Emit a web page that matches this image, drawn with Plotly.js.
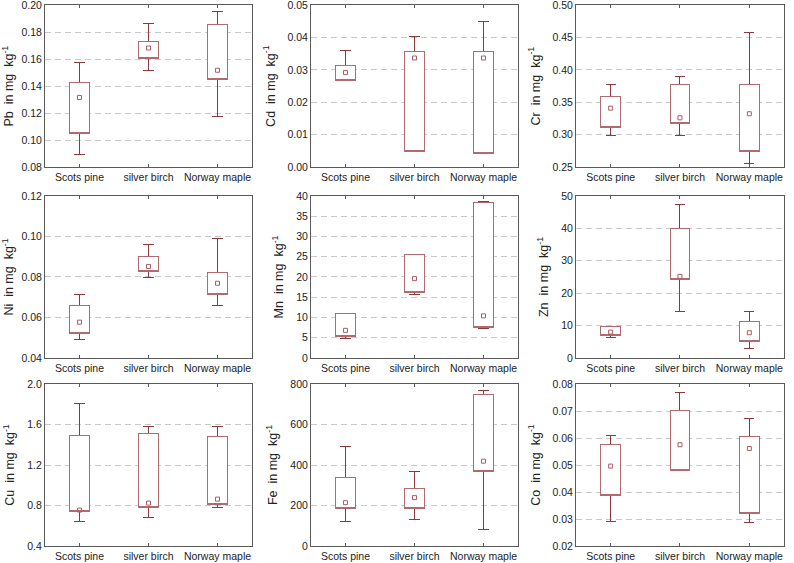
<!DOCTYPE html>
<html><head><meta charset="utf-8">
<script src="https://cdn.plot.ly/plotly-3.0.1.min.js"></script>
<style>
html,body{margin:0;padding:0;background:#fff}
#chart{width:794px;height:563px}
#chart .boxlayer path{shape-rendering:crispEdges}
</style>
</head><body><div id="chart"></div>
<script>
const species = ['Scots pine', 'silver birch', 'Norway maple'];
const elements = ['Pb', 'Cd', 'Cr', 'Ni', 'Mn', 'Zn', 'Cu', 'Fe', 'Co'];

// per species: minimum, 25%, median, 75%, maximum
const PbMin = [0.0893, 0.1513, 0.1174], PbQ1 = [0.1046, 0.1607, 0.1449], PbMed = [0.1316, 0.1683, 0.1518], PbQ3 = [0.1430, 0.1732, 0.1857], PbMax = [0.1572, 0.1862, 0.1953];
const CdMin = [0.0269, 0.0049, 0.0043], CdQ1 = [0.0269, 0.0049, 0.0043], CdMed = [0.0292, 0.0337, 0.0337], CdQ3 = [0.0314, 0.0358, 0.0358], CdMax = [0.0360, 0.0405, 0.0451];
const CrMin = [0.2984, 0.2984, 0.2557], CrQ1 = [0.3107, 0.3169, 0.2747], CrMed = [0.3410, 0.3260, 0.3323], CrQ3 = [0.3596, 0.3780, 0.3780], CrMax = [0.3780, 0.3904, 0.4573];
const NiMin = [0.0493, 0.0797, 0.0659], NiQ1 = [0.0521, 0.0825, 0.0715], NiMed = [0.0577, 0.0852, 0.0769], NiQ3 = [0.0660, 0.0903, 0.0821], NiMax = [0.0713, 0.0961, 0.0989];
const MnMin = [4.7, 15.8, 7.4], MnQ1 = [5.2, 16.27, 7.65], MnMed = [6.83, 19.6, 10.4], MnQ3 = [11.1, 25.55, 38.5], MnMax = [11.1, 25.55, 38.6];
const ZnMin = [6.2, 14.3, 2.8], ZnQ1 = [6.8, 24.2, 5.2], ZnMed = [8.0, 25.2, 7.8], ZnQ3 = [9.7, 40.0, 11.4], ZnMax = [9.8, 47.3, 14.5];
const CuMin = [0.644, 0.684, 0.782], CuQ1 = [0.742, 0.785, 0.811], CuMed = [0.755, 0.824, 0.863], CuQ3 = [1.495, 1.511, 1.482], CuMax = [1.808, 1.580, 1.580];
const FeMin = [121, 129, 80], FeQ1 = [183, 183, 368], FeMed = [214, 239, 419], FeQ3 = [340, 286, 749], FeMax = [491, 366, 769];
const CoMin = [0.0290, 0.0481, 0.0288], CoQ1 = [0.0387, 0.0481, 0.0322], CoMed = [0.0496, 0.0575, 0.0561], CoQ3 = [0.0575, 0.0702, 0.0606], CoMax = [0.0609, 0.0768, 0.0672];

const yRanges = [[0.08, 0.20], [0, 0.05], [0.25, 0.50], [0.04, 0.12], [0, 40], [0, 50], [0.4, 2.0], [0, 800], [0.02, 0.08]];
const yDticks = [0.02, 0.01, 0.05, 0.02, 5, 10, 0.4, 200, 0.01];
const yFormats = ['.2f', '.2f', '.2f', '.2f', 'd', 'd', '.1f', 'd', '.2f'];

const stats = {
  Pb: [PbMin, PbQ1, PbMed, PbQ3, PbMax], Cd: [CdMin, CdQ1, CdMed, CdQ3, CdMax],
  Cr: [CrMin, CrQ1, CrMed, CrQ3, CrMax], Ni: [NiMin, NiQ1, NiMed, NiQ3, NiMax],
  Mn: [MnMin, MnQ1, MnMed, MnQ3, MnMax], Zn: [ZnMin, ZnQ1, ZnMed, ZnQ3, ZnMax],
  Cu: [CuMin, CuQ1, CuMed, CuQ3, CuMax], Fe: [FeMin, FeQ1, FeMed, FeQ3, FeMax],
  Co: [CoMin, CoQ1, CoMed, CoQ3, CoMax]
};

const darkCol = '#8a3a3c';
const lightCol = '#b06a70';
const markCol = '#a85e64';
const frameCol = '#5a5a5a';
const txtCol = '#222222';
const fontFam = 'Arial, Liberation Sans, sans-serif';

const xDomains = [[0, 0.2801], [0.3599, 0.6401], [0.7185, 1]];
const yDomains = [[0.7006, 0.9994], [0.3475, 0.6470], [0, 0.2994]];

const traces = [];
const layout = {
  width: 794, height: 563,
  margin: {l: 45, r: 10, t: 5, b: 17},
  paper_bgcolor: '#fff', plot_bgcolor: '#fff',
  showlegend: false,
  boxmode: 'overlay', boxgap: 0.6,
  font: {family: fontFam, color: txtCol, size: 11}
};

elements.forEach((el, i) => {
  const n = i + 1;
  const xa = 'x' + (n === 1 ? '' : n), ya = 'y' + (n === 1 ? '' : n);
  const [mn, q1, md, q3, mx] = stats[el];
  traces.push({
    type: 'box', x: species, q1: q1, median: q1, q3: q3, lowerfence: mn, upperfence: mx,
    boxpoints: false, whiskerwidth: 0.52, fillcolor: '#ffffff',
    line: {color: darkCol, width: 1}, xaxis: xa, yaxis: ya, hoverinfo: 'skip'
  });
  traces.push({
    type: 'box', x: species, q1: q1, median: q1, q3: q3, lowerfence: q1, upperfence: q3,
    boxpoints: false, whiskerwidth: 0, fillcolor: 'rgba(0,0,0,0)',
    line: {color: lightCol, width: 1}, xaxis: xa, yaxis: ya, hoverinfo: 'skip'
  });
  traces.push({
    type: 'scatter', mode: 'markers', x: species, y: md,
    marker: {symbol: 'square-open', size: 4, color: markCol, line: {width: 1, color: markCol}},
    xaxis: xa, yaxis: ya, hoverinfo: 'skip'
  });
  const col = i % 3, row = Math.floor(i / 3);
  layout['xaxis' + (n === 1 ? '' : n)] = {
    domain: xDomains[col], anchor: ya, type: 'category', range: [-0.5, 2.5],
    showline: true, mirror: 'all', linecolor: frameCol, linewidth: 1,
    ticks: 'inside', ticklen: 3, tickcolor: frameCol, showgrid: false, zeroline: false,
    tickfont: {size: 10.5, family: fontFam, color: txtCol}, automargin: false, fixedrange: true
  };
  layout['yaxis' + (n === 1 ? '' : n)] = {
    domain: yDomains[row], anchor: xa, range: yRanges[i], tick0: yRanges[i][0], dtick: yDticks[i],
    tickformat: yFormats[i], showline: true, mirror: true, linecolor: frameCol, linewidth: 1,
    ticks: '', showgrid: true, gridcolor: '#c9c9c9', griddash: '6px,4px', gridwidth: 1, zeroline: false,
    ticklabeloverflow: 'allow',
    tickfont: {size: 10.5, family: fontFam, color: txtCol}, automargin: false, fixedrange: true,
    title: {text: el + '\u00a0 in mg\u00a0 kg<sup>-1</sup>', font: {size: 12.5, family: fontFam, color: txtCol}, standoff: 9}
  };
});

Plotly.newPlot('chart', traces, layout, {staticPlot: true, displayModeBar: false});
</script>
</body></html>
